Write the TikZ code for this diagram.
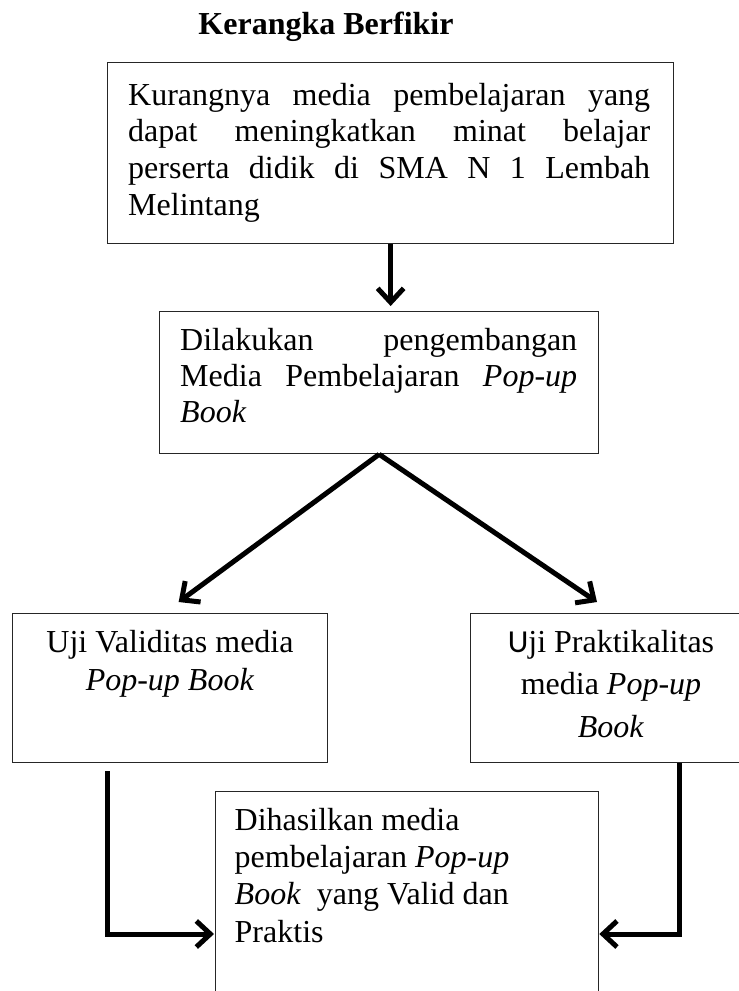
\documentclass[tikz,border=0pt]{standalone}
\usepackage{fontspec}
\setmainfont{Liberation Serif}[ItalicFont={Liberation Serif Italic},BoldFont={Liberation Serif Bold},BoldItalicFont={Liberation Serif Bold Italic}]
\newfontfamily\carlitofont{Carlito}
\usetikzlibrary{arrows.meta,calc}
\begin{document}
\begin{tikzpicture}[x=1pt,y=-1pt,
  box/.style={draw=black!85, line width=1.3pt, rectangle, inner sep=0pt, anchor=north west},
  txt/.style={inner sep=0pt, font=\fontsize{32}{36.7}\selectfont},
  arr/.style={line width=5pt, -{Straight Barb[length=14pt,width=26pt]}}
]
\useasboundingbox (0,0) rectangle (739,991);
\clip (0,0) rectangle (739,991);

\node[font=\fontsize{32}{36.7}\selectfont\bfseries, anchor=base, inner sep=0pt] (title) at (326,34) {Kerangka Berfikir};

% boxes
\node[box, minimum width=566pt, minimum height=181pt] (b1) at (107,62) {};
\node[box, minimum width=439pt, minimum height=142pt] (b2) at (159,311) {};
\node[box, minimum width=315pt, minimum height=149pt] (b3) at (12,613) {};
\node[box, minimum width=300pt, minimum height=149pt] (b4) at (470,613) {};
\node[box, minimum width=383pt, minimum height=240pt] (b5) at (215,791) {};

% texts
\node[txt, anchor=north west, align=left] (t1) at (128,79.3) {\strut\makebox[522pt][s]{Kurangnya media pembelajaran yang}\\
\makebox[522pt][s]{dapat meningkatkan minat belajar}\\
\makebox[522pt][s]{perserta didik di SMA N 1 Lembah}\\
Melintang};

\node[txt, anchor=north west, align=left, font=\fontsize{32}{36}\selectfont] (t2) at (180,324.8) {\strut\makebox[397pt][s]{Dilakukan pengembangan}\\
\makebox[397pt][s]{Media Pembelajaran \textit{Pop-up}}\\
\textit{Book}};

\node[txt, anchor=north, align=center, font=\fontsize{32}{38}\selectfont] (t3) at (170,625.4) {\strut Uji Validitas media\\ \textit{Pop-up Book}};

\node[txt, anchor=north, align=center, font=\fontsize{32}{42.5}\selectfont] (t4) at (611,622.2) {\strut{\carlitofont U}ji Praktikalitas\\ media \textit{Pop-up}\\ \textit{Book}};

\node[txt, anchor=north west, align=left, font=\fontsize{32}{37.3}\selectfont] (t5) at (234.5,803.9) {\strut Dihasilkan media\\
pembelajaran \textit{Pop-up}\\
\textit{Book}\ \ yang Valid dan\\
Praktis};

% connectors
\coordinate (s3) at ($(b3.south west)+(95,8)$);
\coordinate (s4) at ($(b4.south west)+(209,0)$);
\draw[arr] (b1.south) -- ($(b1.south |- b2.north)+(0,-5)$);
\draw[arr] (b2.south) -- ($(b3.north)+(8.5,-11)$);
\draw[arr] (b2.south) -- ($(b4.north west)+(127,-11)$);
\draw[arr] (s3) |- ($(b5.north west)+(-1,143)$);
\draw[arr] (s4) |- ($(b5.north east)+(0,143)$);
\end{tikzpicture}
\end{document}
